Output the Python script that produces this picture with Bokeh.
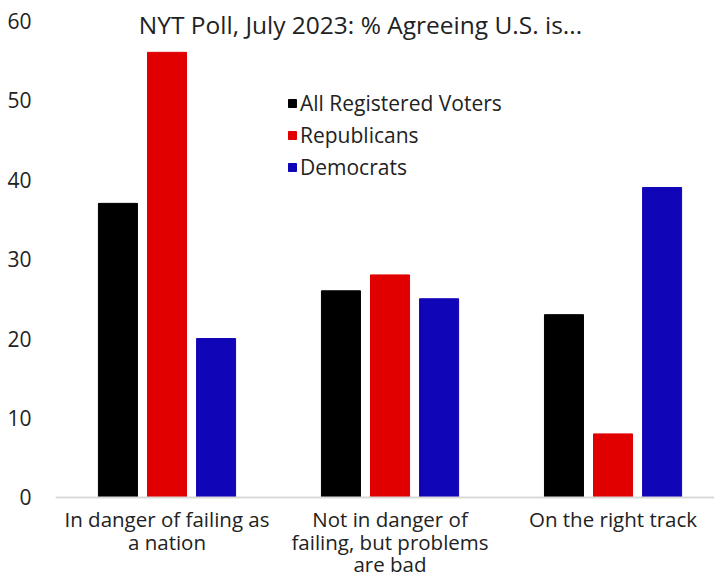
from bokeh.plotting import figure
from bokeh.models import Range1d, FixedTicker, Legend, LegendItem, Label, Span
from bokeh.core.properties import value
from bokeh.embed import file_html
from bokeh.resources import INLINE

categories = ["In danger of failing as\na nation",
              "Not in danger of\nfailing, but problems\nare bad",
              "On the right track"]
series_names = ["All Registered Voters", "Republicans", "Democrats"]
all_voters = [37, 26, 23]
republicans = [56, 28, 8]
democrats = [20, 25, 39]
colors = ["#000000", "#E00000", "#1105B8"]
title_text = "NYT Poll, July 2023: % Agreeing U.S. is..."
y_ticks = [0, 10, 20, 30, 40, 50, 60]

FONT = "Open Sans"
TXT = "#222222"

# frame spans the full canvas height; 0 sits at y=497px, 60 at y=20px
p = figure(width=714, height=578, output_backend="svg", toolbar_location=None,
           x_range=Range1d(-0.5, 2.455), y_range=Range1d(-10.19, 62.52),
           x_axis_location=None,
           min_border_left=55, min_border_right=0, min_border_top=0, min_border_bottom=0)
p.outline_line_color = None
p.grid.grid_line_color = None
p.background_fill_color = "white"
p.border_fill_color = "white"

xs = list(range(len(categories)))
offsets = [-0.22, 0.0, 0.22]
renderers = []
for vals, off, col in zip([all_voters, republicans, democrats], offsets, colors):
    r = p.vbar(x=[x + off for x in xs], top=vals, width=0.175, bottom=0,
               fill_color=col, line_color=col)
    renderers.append(r)

# baseline (x axis line)
p.add_layout(Span(location=0, dimension="width", line_color="#D9D9D9", line_width=2))

# category labels
p.text(x=xs, y=[0] * len(xs), text=categories, y_offset=8,
       text_align="center", text_baseline="top", text_line_height=0.8,
       text_font=value(FONT), text_font_size="20.5px", text_color=TXT)

p.yaxis.ticker = FixedTicker(ticks=y_ticks)
p.yaxis.axis_line_color = None
p.yaxis.major_tick_line_color = None
p.yaxis.minor_tick_line_color = None
p.yaxis.major_label_text_font = FONT
p.yaxis.major_label_text_font_size = "21px"
p.yaxis.major_label_text_color = TXT
p.yaxis.major_label_standoff = 18

legend = Legend(items=[LegendItem(label=n, renderers=[r]) for n, r in zip(series_names, renderers)],
                location=(232, 395), orientation="vertical",
                glyph_width=10, glyph_height=10, label_standoff=3,
                label_height=32, spacing=0, padding=0, margin=0,
                border_line_alpha=0, background_fill_alpha=0,
                label_text_font=FONT, label_text_font_size="21px", label_text_color=TXT)
p.add_layout(legend, "center")

title = Label(x=305, y=554, x_units="screen", y_units="screen", text=title_text,
              text_font=FONT, text_font_size="24.5px", text_color=TXT,
              text_align="center", text_baseline="middle")
p.add_layout(title)

open("out.html", "w").write(file_html(p, INLINE))
